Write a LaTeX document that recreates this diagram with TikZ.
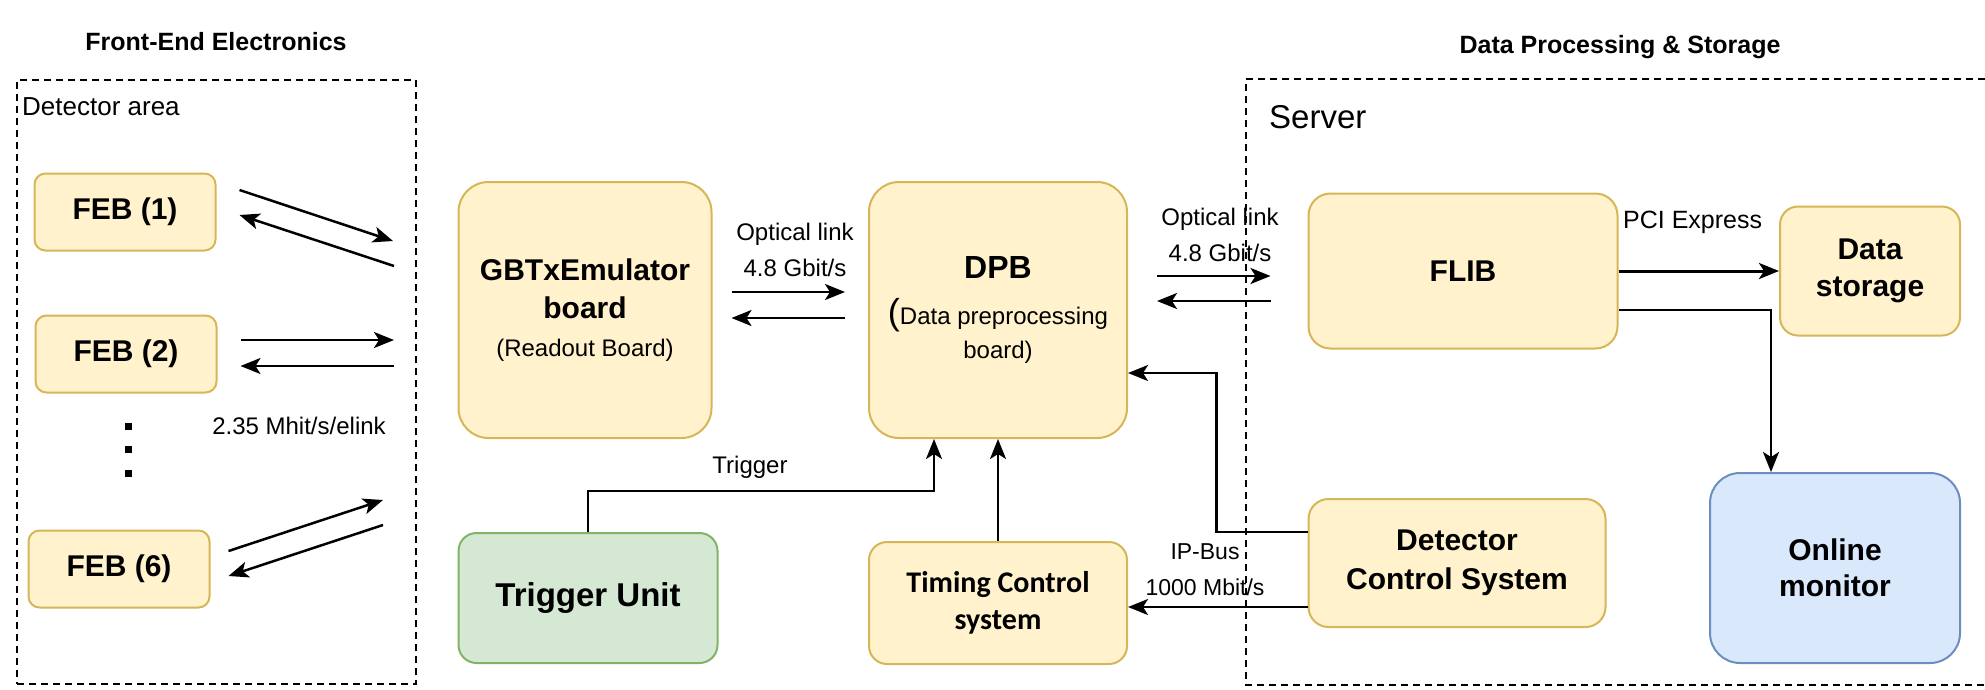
\documentclass[tikz,border=0pt]{standalone}
\usepackage{fontspec}
\setmainfont{Liberation Sans}
\newfontfamily\tcsfont{Carlito}
\usepackage{xcolor}
\usepackage{tikz}
\usetikzlibrary{positioning,arrows.meta}
\definecolor{fillYellow}{HTML}{FFF2CC}
\definecolor{lineYellow}{HTML}{D6B656}
\definecolor{fillGreen}{HTML}{D5E8D4}
\definecolor{lineGreen}{HTML}{82B366}
\definecolor{fillBlue}{HTML}{DAE8FC}
\definecolor{lineBlue}{HTML}{6C8EBF}
\newcommand{\fsz}[2]{\fontsize{#1}{#2}\selectfont}

\begin{document}
\begin{tikzpicture}[
  x=1pt, y=-1pt,
  every node/.style={align=center, inner sep=0pt},
  unit/.style={draw=lineYellow, fill=fillYellow, line width=2pt, rounded corners=#1},
  unit/.default=20pt,
  febbox/.style={unit=11pt, minimum width=181pt, minimum height=77pt, font=\fsz{30}{36}\bfseries},
  zone/.style={draw, dash pattern=on 7pt off 5pt, line width=2pt},
  note/.style={font=\fsz{24}{36}},
  link/.style={line width=2.5pt, -{Stealth[length=20pt,width=16pt,inset=5pt]}},
  dot/.style={fill=black, minimum size=7pt}
]
\useasboundingbox (0,0) rectangle (1985,689);

% section titles
\node[font=\fsz{25}{30}\bfseries] (fetitle) at (216,42) {Front-End Electronics};
\node[font=\fsz{25}{30}\bfseries] (dptitle) at (1620,47) {Data Processing \& Storage};

% dashed areas
\node[zone, minimum width=399pt, minimum height=604pt] (detzone) at (216.5,382) {};
\node[anchor=west, font=\fsz{26}{30}] (detlabel) at (22,107) {Detector area};
\draw[zone] (1985,79) -- (1246,79) -- (1246,685) -- (1985,685);
\node[anchor=west, font=\fsz{33}{38}] (serverlabel) at (1269,117) {Server};

% front-end boards
\node[febbox] (feb1) at (125,212) {FEB (1)};
\node[febbox] (feb2) at (126,354) {FEB (2)};
\node[febbox] (feb6) at (119,569) {FEB (6)};
\foreach \i/\y in {1/426,2/449,3/473}
  \node[dot] (dot\i) at (128,\y) {};
\node[note] (elink) at (299,426) {2.35 Mhit/s/elink};

\coordinate (out1) at (393,241);
\coordinate (in1) at (394,266);
\coordinate (out2) at (394,340);
\coordinate (in2) at (394,366);
\coordinate (out6) at (383,500);
\coordinate (in6) at (383,525);
\draw[link] ([xshift=23pt,yshift=22pt]feb1.east) -- (out1);
\draw[link] (in1) -- ([xshift=23pt,yshift=-3pt]feb1.east);
\draw[link] ([xshift=23pt,yshift=14pt]feb2.east) -- (out2);
\draw[link] (in2) -- ([xshift=23pt,yshift=-12pt]feb2.east);
\draw[link] ([xshift=18pt,yshift=18pt]feb6.east) -- (out6);
\draw[link] (in6) -- ([xshift=18pt,yshift=-7pt]feb6.east);

% readout chain
\node[unit=30pt, minimum width=253pt, minimum height=256pt, font=\fsz{24}{38}] (gbtx) at (585,310)
  {{\fsz{30}{38}\bfseries GBTxEmulator}\\{\fsz{30}{38}\bfseries board}\\(Readout Board)};
\node[unit=30pt, minimum width=258pt, minimum height=256pt, font=\fsz{24}{34}] (dpb) at (998,310)
  {{\fsz{32}{38}\bfseries DPB}\\[12pt]{\fsz{36}{38}(}Data preprocessing\\board)};
\node[unit=22pt, minimum width=309pt, minimum height=155pt, font=\fsz{30}{36}\bfseries] (flib) at (1463,271) {FLIB};
\node[unit=18pt, minimum width=180pt, minimum height=129pt, font=\fsz{30}{37}\bfseries] (store) at (1870,271) {Data\\storage};
\node[unit=30pt, draw=lineBlue, fill=fillBlue, minimum width=250pt, minimum height=190pt, font=\fsz{30}{36}\bfseries] (monitor) at (1835,568) {Online\\monitor};
\node[unit=20pt, minimum width=297pt, minimum height=128pt, font=\fsz{30}{39}\bfseries] (dcs) at (1457,563) {Detector\\Control System};
\node[unit=18pt, minimum width=258pt, minimum height=122pt, font=\tcsfont\fsz{30}{37}\bfseries] (tcs) at (998,603) {Timing Control\\system};
\node[unit=18pt, draw=lineGreen, fill=fillGreen, minimum width=259pt, minimum height=130pt, font=\fsz{33}{40}\bfseries] (trigger) at (588,598) {Trigger Unit};

% link labels
\node[note] (optA) at (795,250) {Optical link\\4.8 Gbit/s};
\node[note] (optB) at (1220,235) {Optical link\\4.8 Gbit/s};
\node[note, anchor=west, font=\fsz{25}{30}] (pcie) at (1623,222) {PCI Express};
\node[note] (trigtxt) at (750,467) {Trigger};
\node[note, font=\fsz{23}{36}] (ipbus) at (1205,570) {IP-Bus\\1000 Mbit/s};

% optical links
\draw[link] ([xshift=19pt,yshift=18pt]gbtx.east) -- ([xshift=-23pt,yshift=18pt]dpb.west);
\draw[link] ([xshift=-23pt,yshift=-8pt]dpb.west) -- ([xshift=19pt,yshift=-8pt]gbtx.east);
\draw[link] ([xshift=29pt,yshift=34pt]dpb.east) -- ([xshift=-37pt,yshift=-5pt]flib.west);
\draw[link] ([xshift=-37pt,yshift=-30pt]flib.west) -- ([xshift=29pt,yshift=9pt]dpb.east);

% server side
\draw[link, line width=3pt] (flib.east) -- (store.west);
\draw[link] ([yshift=-39pt]flib.east) -| ([xshift=-64pt]monitor.north);
\draw[link] ([yshift=31pt]dcs.west) -- ++(-91,0) |- ([yshift=-63pt]dpb.east);
\draw[link] ([yshift=-44pt]dcs.west) -- ([yshift=-4pt]tcs.east);

% trigger and timing
\draw[link] (trigger.north) -- ++(0,-41) -| ([xshift=-64pt]dpb.south);
\draw[link] (tcs.north) -- (dpb.south);
\end{tikzpicture}
\end{document}
